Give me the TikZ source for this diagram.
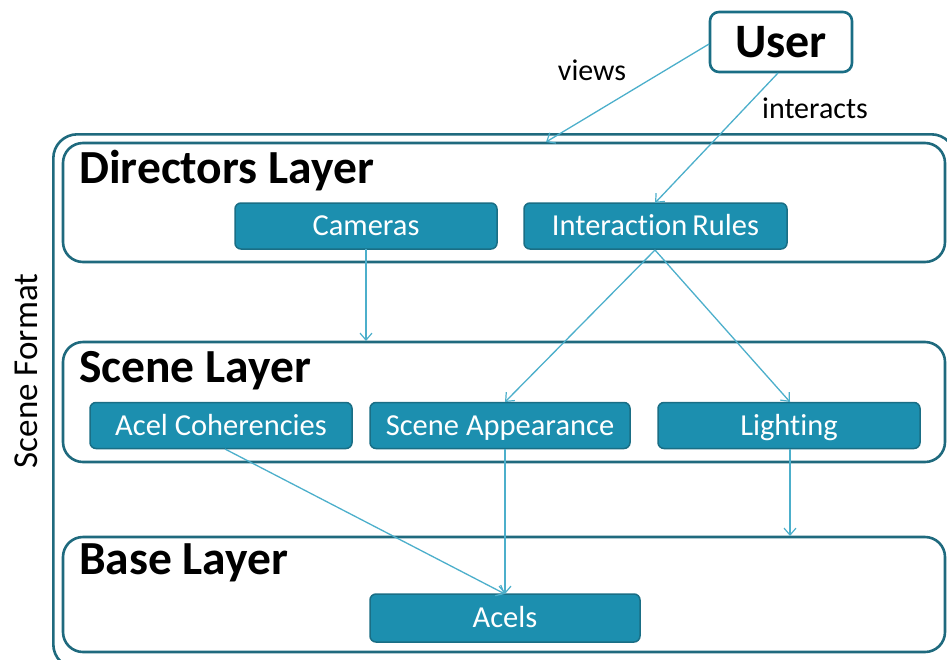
\documentclass[tikz,border=0pt]{standalone}
\usepackage{fontspec}
\setmainfont[Ligatures={NoCommon}]{Carlito}
\usetikzlibrary{arrows.meta}
\definecolor{boxfill}{HTML}{1C8FAF}
\definecolor{boxline}{HTML}{1A6E85}
\definecolor{layerline}{HTML}{1F6A7E}
\definecolor{arrowc}{HTML}{4CAFCB}
\tikzset{
  layerbox/.style={draw=layerline, line width=2.6pt, rounded corners=20pt, fill=white, inner sep=0pt},
  outerbox/.style={draw=layerline, line width=2.6pt, rounded corners=24pt, inner sep=0pt},
  compbox/.style={draw=boxline, line width=1.5pt, fill=boxfill, rounded corners=6pt, text=white,
    font=\fontsize{30.5}{33}\selectfont, inner sep=0pt, minimum height=46pt,
    text height=22pt, text depth=2.5pt},
  userbox/.style={draw=boxline, line width=2.6pt, fill=white, rounded corners=9pt,
    font=\fontsize{48}{52}\selectfont\bfseries, inner sep=0pt, minimum width=142pt, minimum height=60pt},
  title/.style={font=\fontsize{47.5}{50}\selectfont\bfseries, anchor=base west, inner sep=0pt},
  lbl/.style={font=\fontsize{30}{33}\selectfont, inner sep=0pt},
  conn/.style={draw=arrowc, line width=1.3pt, -{Straight Barb[length=7pt,width=12pt,line width=1.2pt]}}
}
\begin{document}
\begin{tikzpicture}[x=1pt,y=-1pt]
\useasboundingbox (0,0) rectangle (947,659);
\clip (0,0) rectangle (947,659);
% outer scene format box
\node[outerbox, minimum width=902pt, minimum height=534pt, anchor=north west] (outer) at (52,133) {};
% layers
\node[layerbox, minimum width=882pt, minimum height=119pt] (dir) at (504,202.5) {};
\node[layerbox, minimum width=882pt, minimum height=120pt] (scn) at (504,402) {};
\node[layerbox, minimum width=882pt, minimum height=115pt] (base) at (504,594.5) {};
% titles
\node[title] (dirT) at (79,183) {Directors Layer};
\node[title] (scnT) at (79,382) {Scene Layer};
\node[title] (baseT) at (79,574) {Base Layer};
% components
\node[compbox, minimum width=262pt] (cam) at (366,226) {Cameras};
\node[compbox, minimum width=263pt] (ir) at (655.5,226) {Interaction\,Rules};
\node[compbox, minimum width=262pt] (acoh) at (221,425.5) {Acel Coherencies};
\node[compbox, minimum width=260pt] (sapp) at (500,425.5) {Scene Appearance};
\node[compbox, minimum width=262pt] (light) at (789,425.5) {Lighting};
\node[compbox, minimum width=270pt, minimum height=48pt] (acels) at (505,618) {Acels};
% user
\node[userbox] (user) at (781,42) {User};
% labels
\node[lbl] (views) at (592,70) {views};
\node[lbl] (inter) at (815,108) {interacts};
\node[font=\fontsize{35}{38}\selectfont, rotate=90, inner sep=0pt] (sf) at (26,371) {Scene Format};
% connectors
\coordinate (uW) at (709,44);
\coordinate (viewEnd) at (546,142);
\draw[conn] (uW) -- (viewEnd);
\coordinate (uS) at (778,73);
\coordinate (irN) at (655,203);
\draw[conn] (uS) -- (irN);
\coordinate (camS) at (366,249);
\coordinate (scnTop) at (366,341);
\draw[conn] (camS) -- (scnTop);
\coordinate (irS) at (655,250);
\coordinate (sappN) at (505,402);
\coordinate (lightN) at (790,402);
\draw[conn] (irS) -- (sappN);
\draw[conn] (irS) -- (lightN);
\coordinate (acohS) at (225,449);
\coordinate (acelsN) at (505,594);
\draw[conn] (acohS) -- (acelsN);
\coordinate (sappS) at (505,449);
\draw[conn] (sappS) -- (acelsN);
\coordinate (lightS) at (790,449);
\coordinate (baseTop) at (790,536);
\draw[conn] (lightS) -- (baseTop);
\end{tikzpicture}
\end{document}
